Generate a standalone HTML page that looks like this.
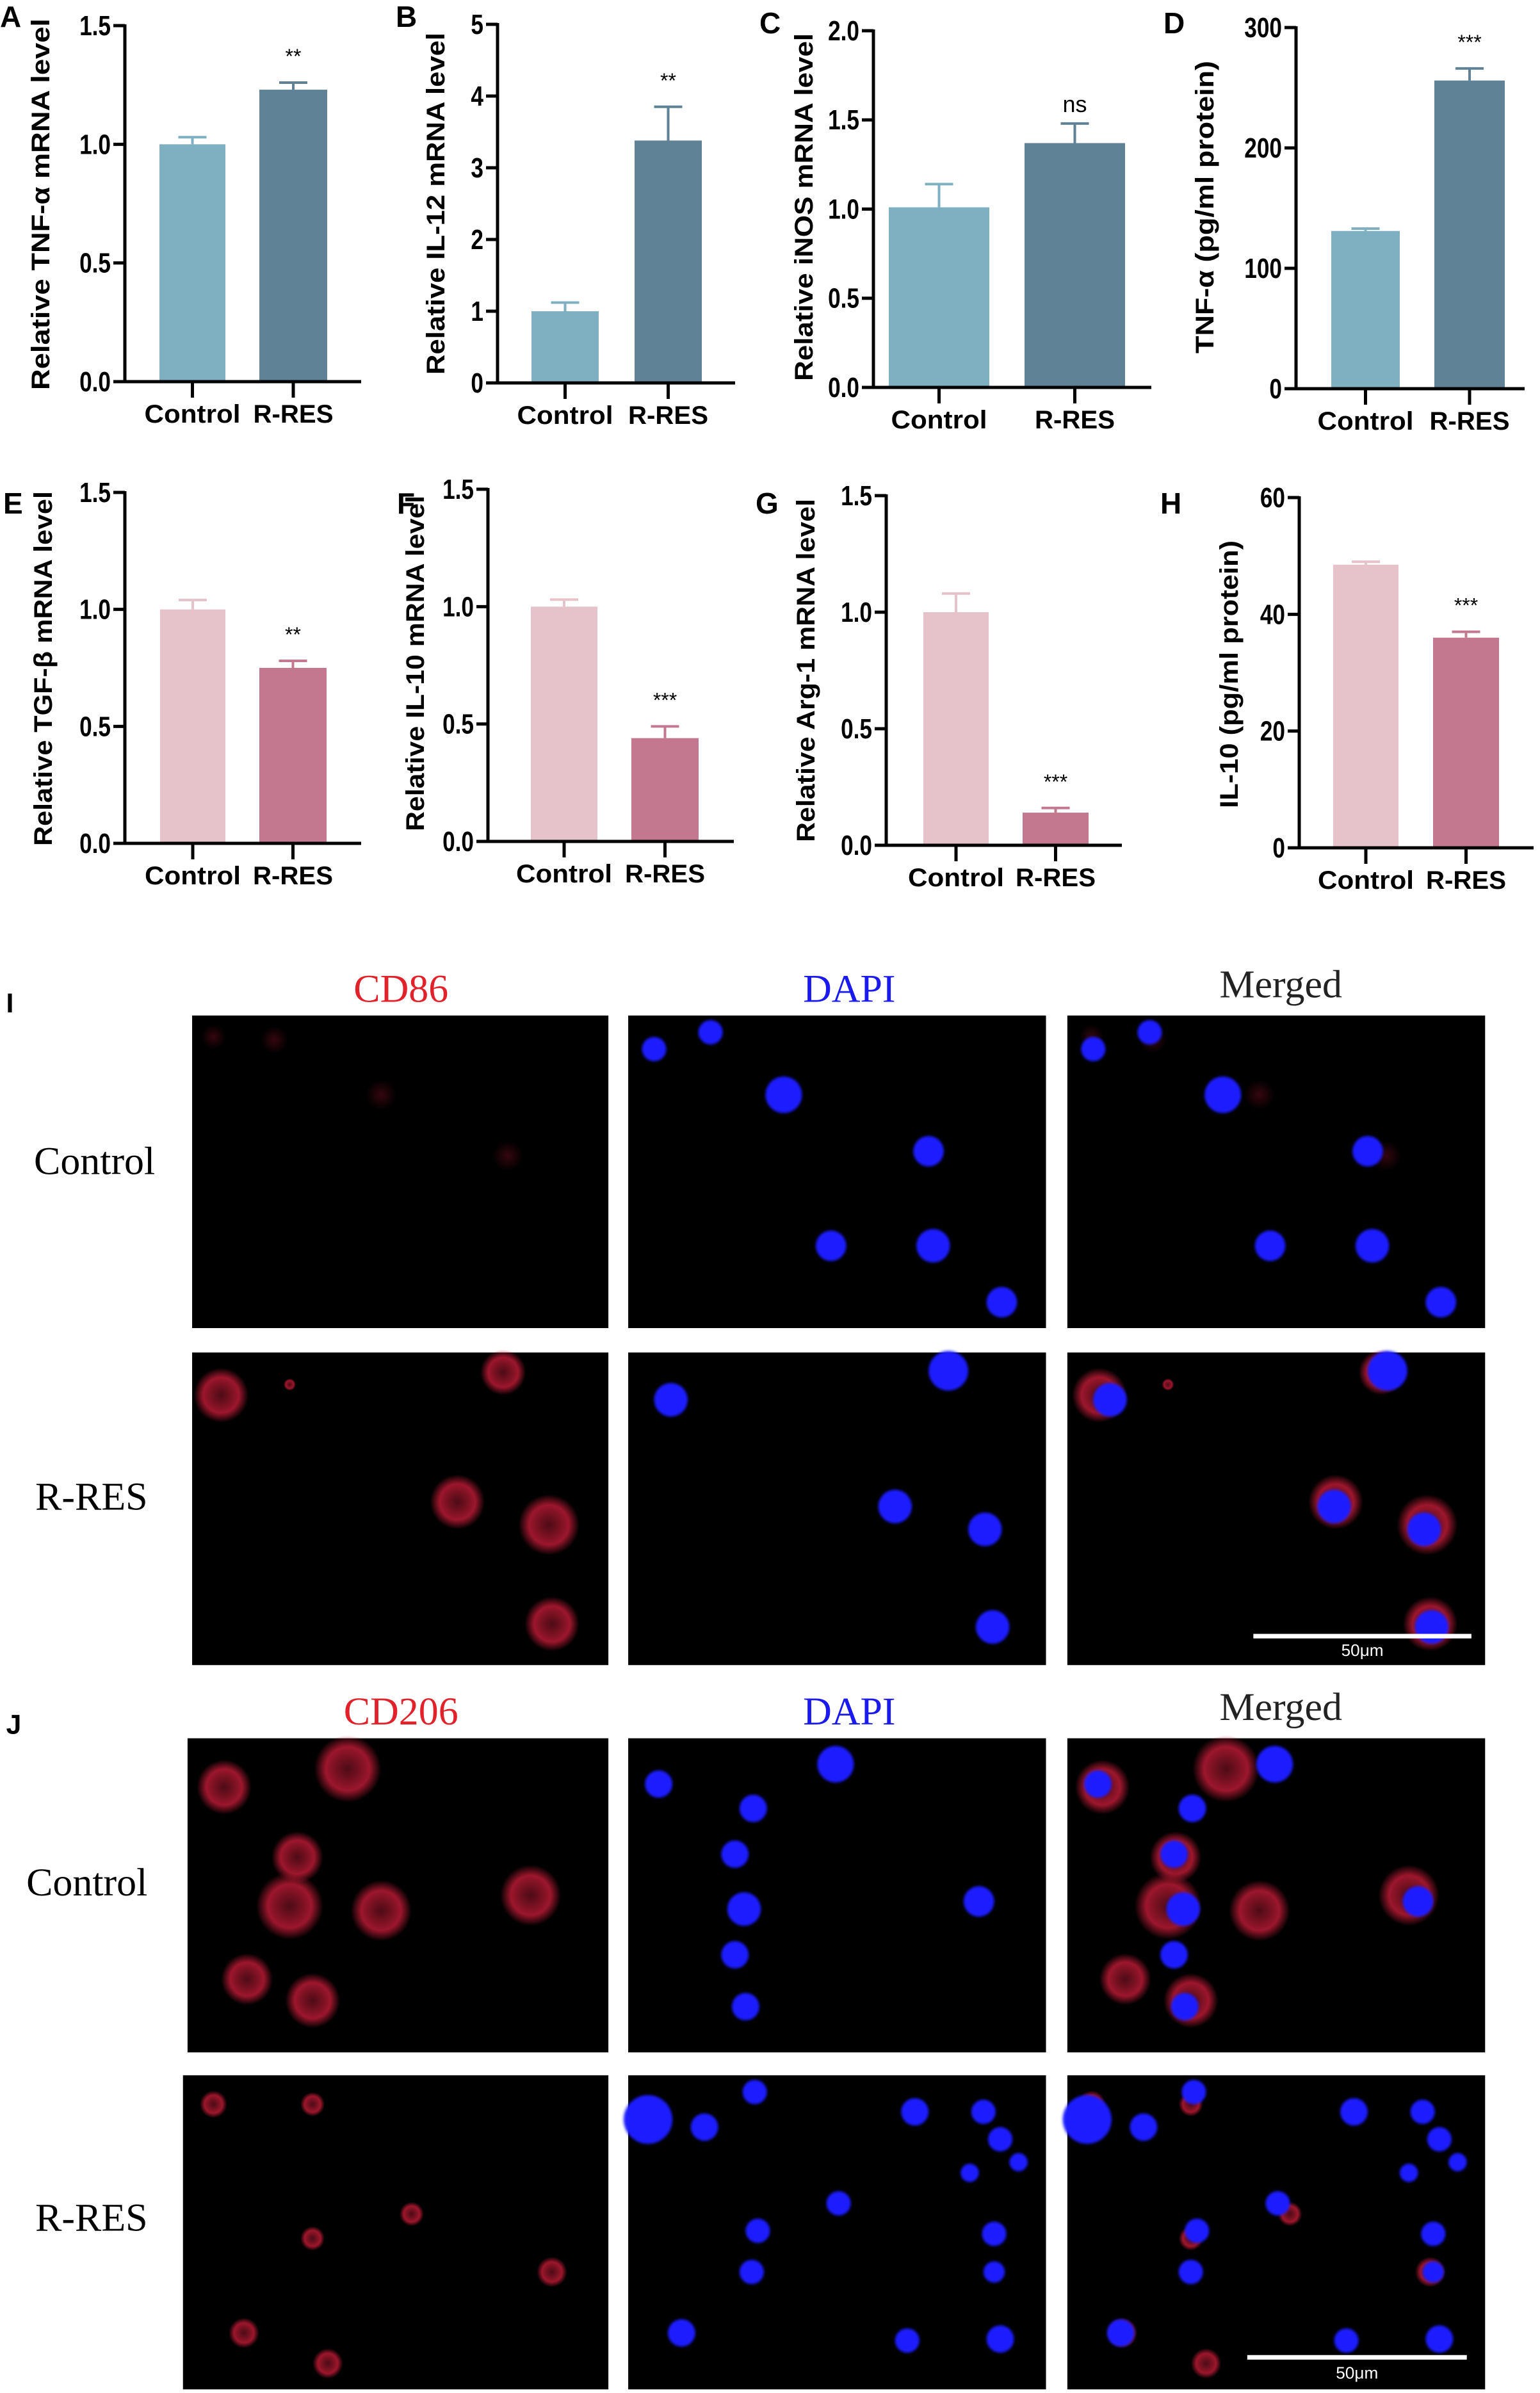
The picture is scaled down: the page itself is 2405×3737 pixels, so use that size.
<!DOCTYPE html>
<html><head><meta charset="utf-8">
<style>
html,body{margin:0;padding:0;background:#fff;}
svg{display:block;}
</style></head>
<body>
<svg id="fig" xmlns="http://www.w3.org/2000/svg" width="2405" height="3737" viewBox="0 0 2405 3737">
<defs>
  <filter id="blur1" x="-50%" y="-50%" width="200%" height="200%"><feGaussianBlur stdDeviation="0.9"/></filter>
  <radialGradient id="redcell"><stop offset="0" stop-color="#701020" stop-opacity="0.7"/><stop offset="0.65" stop-color="#b81a34" stop-opacity="0.85"/><stop offset="1" stop-color="#b81a34" stop-opacity="0"/></radialGradient>
  <radialGradient id="faintred"><stop offset="0" stop-color="#4a0a14" stop-opacity="0.7"/><stop offset="1" stop-color="#4a0a14" stop-opacity="0"/></radialGradient>
</defs>
<g id="charts"></g>
<g id="micro" transform="scale(2.3812)"></g>
</svg>
<script>
const NS='http://www.w3.org/2000/svg';
const svg=document.getElementById('charts');
function mk(tag,attrs,parent){const e=document.createElementNS(NS,tag);for(const k in attrs)e.setAttribute(k,attrs[k]);(parent||svg).appendChild(e);return e;}

// ---- data ----
const categories=['Control','R-RES'];
const valsA=[1.0,1.23], errA=[0.03,0.03];
const valsB=[1.0,3.38], errB=[0.12,0.47];
const valsC=[1.01,1.37], errC=[0.13,0.11];
const valsD=[131,256], errD=[2,10];
const valsE=[1.0,0.75], errE=[0.04,0.03];
const valsF=[1.0,0.44], errF=[0.03,0.05];
const valsG=[1.0,0.14], errG=[0.08,0.02];
const valsH=[48.5,36], errH=[0.5,1.0];
const ticksMRNA=[0,0.5,1.0,1.5];
const ticksB=[0,1,2,3,4,5];
const ticksC=[0,0.5,1.0,1.5,2.0];
const ticksD=[0,100,200,300];
const ticksH=[0,20,40,60];
const starsAll=['**','**','ns','***','**','***','***','***'];

const blue=['#7fb0c2','#5f8297'], pink=['#e6c3cb','#c47890'];
const panels=[
 {id:'a',L:'A',lx:0,ly:42,ax:195,y0:596,yt:40,ax2:564,b:[[249,352],[405,511]],v:valsA,e:errA,t:ticksMRNA,fmt:1,c:blue,yl:'Relative TNF-α  mRNA level',ylx:63,yly:[29,609]},
 {id:'b',L:'B',lx:618,ly:42,ax:777,y0:598,yt:38,ax2:1148,b:[[830,935],[991,1096]],v:valsB,e:errB,t:ticksB,fmt:0,c:blue,yl:'Relative IL-12 mRNA level',ylx:680,yly:[51,585]},
 {id:'c',L:'C',lx:1186,ly:52,ax:1364,y0:605,yt:48,ax2:1798,b:[[1388,1545],[1600,1757]],v:valsC,e:errC,t:ticksC,fmt:1,c:blue,yl:'Relative iNOS mRNA level',ylx:1255,yly:[52,595]},
 {id:'d',L:'D',lx:1817,ly:52,ax:2024,y0:607,yt:43,ax2:2381,b:[[2079,2186],[2240,2350]],v:valsD,e:errD,t:ticksD,fmt:0,c:blue,yl:'TNF-α (pg/ml protein)',ylx:1881,yly:[95,552]},
 {id:'e',L:'E',lx:5,ly:802,ax:195,y0:1317,yt:769,ax2:564,b:[[250,352],[405,510]],v:valsE,e:errE,t:ticksMRNA,fmt:1,c:pink,yl:'Relative TGF-β mRNA level',ylx:67,yly:[767,1321]},
 {id:'f',L:'F',lx:620,ly:802,ax:762,y0:1314,yt:764,ax2:1146,b:[[829,933],[986,1091]],v:valsF,e:errF,t:ticksMRNA,fmt:1,c:pink,yl:'Relative IL-10 mRNA level',ylx:648,yly:[774,1298]},
 {id:'g',L:'G',lx:1180,ly:802,ax:1384,y0:1320,yt:774,ax2:1752,b:[[1442,1544],[1597,1700]],v:valsG,e:errG,t:ticksMRNA,fmt:1,c:pink,yl:'Relative Arg-1 mRNA level',ylx:1258,yly:[779,1315]},
 {id:'h',L:'H',lx:1812,ly:802,ax:2029,y0:1324,yt:777,ax2:2395,b:[[2082,2184],[2238,2341]],v:valsH,e:errH,t:ticksH,fmt:0,c:pink,yl:'IL-10 (pg/ml protein)',ylx:1919,yly:[844,1262]},
];
panels.forEach((p,pi)=>{
  const g=mk('g',{});
  
  
  const tmax=p.t[p.t.length-1];
  const Y=v=>p.y0-(v/tmax)*(p.y0-p.yt);
  const lt=mk('text',{x:p.lx,y:p.ly,'font-family':'Liberation Sans, sans-serif','font-weight':'bold','font-size':46},g);
  lt.textContent=p.L;
  
  
  p.v.forEach((v,i)=>{
    const [x1,x2]=p.b[i]; const cx=(x1+x2)/2;
    const r=mk('rect',{x:x1,y:Y(v),width:x2-x1,height:p.y0-Y(v),fill:p.c[i]},g);
    
    
    const et=Y(v+p.e[i]);
    const el=mk('path',{d:`M${cx} ${Y(v)}V${et}M${cx-22} ${et}H${cx+22}`,stroke:p.c[i],'stroke-width':4,fill:'none'},g);
    
    
    const tk=mk('line',{x1:cx,x2:cx,y1:p.y0,y2:p.y0+25,stroke:'#000','stroke-width':5},g);
    
    
  });
  const cx2=(p.b[1][0]+p.b[1][1])/2;
  const isNs=starsAll[pi]=='ns';
  const st=mk('text',{x:cx2,y:Y(p.v[1]+p.e[1])-(isNs?18:30),'text-anchor':'middle','font-family':'Liberation Sans, sans-serif','font-size':isNs?36:32},g);
  st.textContent=starsAll[pi];
  
  
  const ax=mk('path',{d:`M${p.ax} ${p.yt-2}V${p.y0}H${p.ax2}`,stroke:'#000','stroke-width':5,fill:'none'},g);
  
  
  p.t.forEach(t=>{
    const tl=mk('line',{x1:p.ax-18,x2:p.ax,y1:Y(t),y2:Y(t),stroke:'#000','stroke-width':5},g);
    
    
    const tx=mk('text',{x:p.ax-22,y:Y(t)+15,'text-anchor':'end','font-family':'Liberation Sans, sans-serif','font-weight':'bold','font-size':44,transform:`translate(${p.ax-22} 0) scale(0.8 1) translate(${-(p.ax-22)} 0)`},g);
    tx.textContent=p.fmt?t.toFixed(1):String(t);
    
    
  });
  categories.forEach((c,i)=>{
    const cx=(p.b[i][0]+p.b[i][1])/2;
    const tx=mk('text',{x:cx,y:p.y0+64,'text-anchor':'middle','font-family':'Liberation Sans, sans-serif','font-weight':'bold','font-size':40,textLength:c=='Control'?150:125,lengthAdjust:'spacingAndGlyphs'},g);
    tx.textContent=c;
    
    
  });
  const cy=(p.yly[0]+p.yly[1])/2;
  const yl=mk('text',{x:0,y:0,'text-anchor':'middle','font-family':'Liberation Sans, sans-serif','font-weight':'bold','font-size':40,textLength:p.yly[1]-p.yly[0],lengthAdjust:'spacingAndGlyphs',transform:`translate(${p.ylx+14} ${cy}) rotate(-90)`},g);
  yl.textContent=p.yl;
  
  
});

// ---- micrographs (display coords) ----
const M=document.getElementById('micro');
function mm(tag,attrs,parent){return mk(tag,attrs,parent||M);}
function txt(s,x,y,attrs,name){const t=mm('text',Object.assign({x:x,y:y},attrs));t.textContent=s;return t;}
const serif={'font-family':'Liberation Serif, serif','font-size':26,'text-anchor':'middle'};
txt('I',4,664,{'font-family':'Liberation Sans, sans-serif','font-weight':'bold','font-size':18},'panel-label-i');
txt('J',4,1137,{'font-family':'Liberation Sans, sans-serif','font-weight':'bold','font-size':18},'panel-label-j');
[[657,'I'],[1131,'J']].forEach(([y,k])=>{
  txt(k=='I'?'CD86':'CD206',263,y,Object.assign({fill:'#e2222a'},serif),'header-red-'+k);
  txt('DAPI',557,y,Object.assign({fill:'#1a1aee'},serif),'header-dapi-'+k);
  txt('Merged',840,y-3,Object.assign({fill:'#222'},serif),'header-merged-'+k);
});
txt('Control',62,770,serif,'row-label-control-i');
txt('R-RES',60,990,serif,'row-label-rres-i');
txt('Control',57,1243,serif,'row-label-control-j');
txt('R-RES',60,1463,serif,'row-label-rres-j');

const rows=[
 {y:666,h:205,x1:126,red:[[140,680,8,0],[180,682,9,0],[250,718,10,0],[333,758,10,0]],blue:[[429,688,8],[466,677,8],[514,718,12],[609,755,10],[545,817,10],[612,817,11],[657,854,10]]},
 {y:887,h:205,x1:126,red:[[145,915,18,1],[190,908,4,1],[330,900,15,1],[300,985,18,1],[360,1000,20,1],[362,1065,18,1]],blue:[[440,918,11],[622,899,13],[587,988,11],[646,1003,11],[651,1067,11]]},
 {y:1140,h:206,x1:123,red:[[147,1172,18,1],[228,1160,22,1],[195,1218,17,1],[190,1250,22,1],[250,1253,20,1],[348,1243,20,1],[162,1298,17,1],[205,1312,18,1]],blue:[[432,1170,9],[548,1157,12],[494,1186,9],[482,1216,9],[488,1252,11],[482,1282,9],[489,1316,9],[642,1247,10]]},
 {y:1361,h:206,x1:120,red:[[140,1380,9,1],[205,1380,8,1],[270,1452,8,1],[362,1490,10,1],[160,1530,10,1],[215,1550,10,1],[205,1468,8,1]],blue:[[425,1390,16],[462,1395,9],[495,1372,8],[600,1385,9],[645,1385,8],[656,1403,8],[668,1418,6],[636,1425,6],[550,1445,8],[497,1463,8],[493,1490,8],[652,1465,8],[652,1490,7],[447,1530,9],[595,1535,8],[656,1534,9]]},
];
rows.forEach((r,ri)=>{
  const cols=[[r.x1,399],[412,686],[700,974]];
  cols.forEach(([a,b],ci)=>{
    const g=mm('g',{});
    
    
    mm('rect',{x:a,y:r.y,width:b-a,height:r.h,fill:'#000'},g);
    if(ci==0||ci==2){
      r.red.forEach(([x,y,rad,bright])=>{
        const dx=ci==2?576:0;
        mm('circle',{cx:x+dx,cy:y,r:rad,fill:bright?'url(#redcell)':'url(#faintred)'},g);
      });
    }
    if(ci==1||ci==2){
      r.blue.forEach(([x,y,rad])=>{
        const dx=ci==2?288:0;
        mm('circle',{cx:x+dx,cy:y,r:rad,fill:'#1a1aff',filter:'url(#blur1)'},g);
      });
    }
  });
});
[[822,965,1073,1086],[818,962,1546,1560]].forEach(([a,b,y,ty],i)=>{
  const l=mm('line',{x1:a,x2:b,y1:y,y2:y,stroke:'#fff','stroke-width':3});
  
  
  txt('50μm',(a+b)/2,ty,{'font-family':'Liberation Sans, sans-serif','font-size':11,fill:'#fff','text-anchor':'middle'},'scale-bar-label');
});
</script>
</body></html>
